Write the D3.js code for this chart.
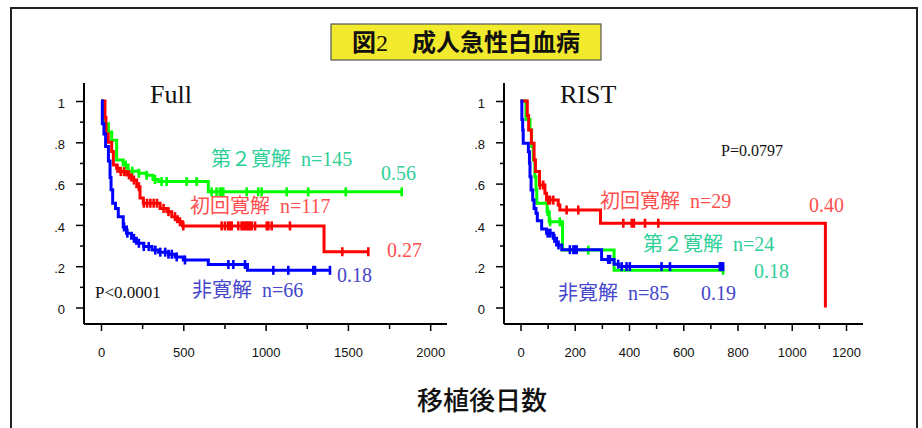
<!DOCTYPE html>
<html><head><meta charset="utf-8">
<script src="https://cdn.jsdelivr.net/npm/d3@7"></script>
<style>
html,body{margin:0;padding:0;background:#fff;}
svg{display:block;}
text{white-space:pre;}
</style></head>
<body>
<svg id="c" width="922" height="428"></svg>
<script>
// ---------- data ----------
const yTicks = [0, 0.2, 0.4, 0.6, 0.8, 1];
const yTickLabels = ["0", ".2", ".4", ".6", ".8", "1"];
const fullXTicks = [0, 500, 1000, 1500, 2000];
const ristXTicks = [0, 200, 400, 600, 800, 1000, 1200];

// Full panel: KM step points [day, survival]
const fullGreen = [[0,1],[10,0.95],[20,0.89],[45,0.85],[65,0.81],[95,0.714],[135,0.69],[165,0.66],[230,0.65],[277,0.64],[316,0.62],[348,0.61],[652,0.56],[1827,0.56]];
const fullRed = [[0,1],[24,0.92],[30,0.84],[44,0.80],[65,0.755],[75,0.69],[95,0.674],[116,0.658],[156,0.642],[186,0.617],[217,0.585],[237,0.53],[257,0.505],[359,0.48],[400,0.464],[430,0.44],[465,0.415],[495,0.395],[1355,0.27],[1624,0.27]];
const fullBlue = [[0,1],[8,0.89],[18,0.84],[28,0.78],[45,0.71],[55,0.63],[61,0.57],[71,0.505],[88,0.48],[105,0.44],[135,0.39],[155,0.36],[185,0.335],[215,0.311],[260,0.295],[310,0.278],[350,0.268],[410,0.258],[450,0.245],[500,0.23],[652,0.208],[890,0.18],[1391,0.18]];
const fullGreenCens = [150,190,230,277,328,368,399,520,581,672,702,723,733,743,885,955,976,1128,1259,1487,1827];
const fullRedCens = [100,120,140,170,200,230,260,280,300,320,340,380,410,450,480,500,733,753,773,784,794,834,854,864,875,885,895,905,915,936,1007,1017,1037,1148,1466,1624];
const fullBlueCens = [140,160,200,230,260,290,330,360,390,410,430,460,510,774,804,875,1047,1138,1290,1300,1391];

// RIST panel
const ristGreen = [[0,1],[20,0.91],[35,0.86],[41,0.78],[47,0.714],[53,0.633],[57,0.57],[60,0.505],[98,0.464],[106,0.415],[155,0.278],[345,0.18],[747,0.18]];
const ristRed = [[0,1],[25,0.93],[30,0.86],[40,0.795],[50,0.714],[55,0.658],[70,0.593],[90,0.553],[96,0.52],[139,0.496],[145,0.472],[295,0.408],[1124,0]];
const ristBlue = [[0,1],[5,0.91],[8,0.86],[10,0.795],[29,0.754],[33,0.698],[35,0.633],[39,0.569],[45,0.52],[50,0.48],[57,0.456],[62,0.42],[78,0.38],[96,0.36],[121,0.335],[133,0.303],[152,0.28],[299,0.233],[345,0.21],[362,0.198],[747,0.198]];
const ristGreenCens = [100,109,145,250,747];
const ristRedCens = [72,84,102,109,121,170,213,379,410,418,459,508];
const ristBlueCens = [100,110,125,140,182,195,201,207,323,330,360,373,391,403,520,551,735,741,747];

const titleText = ["図", "2", "　成人急性白血病"];
const xTitle = "移植後日数";

const colGreen = "#00ff00", colRed = "#ff0000", colBlue = "#0000ff";
const labGreen = "#2fcf98", labRed = "#ff4f4f", labBlue = "#4646cc";

// ---------- drawing ----------
const svg = d3.select("#c");
const serif = "'Liberation Serif','Times New Roman','Noto Sans CJK JP',serif";
const sansJ = "'Noto Sans CJK JP','Liberation Sans',sans-serif";
const sans = "'Liberation Sans',Arial,sans-serif";

// outer frame
svg.append("rect").attr("x", 11).attr("y", 8).attr("width", 906).attr("height", 440)
  .attr("fill", "none").attr("stroke", "#222").attr("stroke-width", 2);

// title box
svg.append("rect").attr("x", 331).attr("y", 24).attr("width", 270).attr("height", 36)
  .attr("fill", "#f2ea2c").attr("stroke", "#555").attr("stroke-width", 1.2);
const tt = svg.append("text").attr("x", 466).attr("y", 51).attr("text-anchor", "middle")
  .attr("font-size", 24).attr("fill", "#111");
tt.append("tspan").attr("font-family", sansJ).attr("font-weight", 700).text(titleText[0]);
tt.append("tspan").attr("font-family", serif).attr("font-weight", 400).text(titleText[1]);
tt.append("tspan").attr("font-family", sansJ).attr("font-weight", 700).text(titleText[2]);

// x title
svg.append("text").attr("x", 482).attr("y", 410).attr("text-anchor", "middle")
  .attr("font-family", sansJ).attr("font-weight", 500).attr("font-size", 26).attr("fill", "#111").text(xTitle);

const y = d3.scaleLinear().domain([0, 1]).range([307.5, 101]);

function stepAt(curve, t) {
  let s = curve[0][1];
  for (const p of curve) { if (p[0] <= t) s = p[1]; else break; }
  return s;
}

function panel(opt) {
  const g = svg.append("g");
  const x = d3.scaleLinear().domain(opt.domain).range(opt.range);
  // axis lines
  g.append("line").attr("x1", opt.axisX).attr("x2", opt.axisX).attr("y1", 83).attr("y2", 324)
    .attr("stroke", "#000").attr("stroke-width", 2);
  g.append("line").attr("x1", opt.axisX).attr("x2", opt.axisEnd).attr("y1", 324).attr("y2", 324)
    .attr("stroke", "#000").attr("stroke-width", 2);
  // y axis major
  const ya = g.append("g").attr("transform", `translate(${opt.axisX},0)`)
    .call(d3.axisLeft(y).tickValues(yTicks).tickFormat((d, i) => yTickLabels[i]).tickSize(8).tickPadding(11));
  ya.select(".domain").remove();
  ya.selectAll("line").attr("stroke-width", 1.5);
  ya.selectAll("text").attr("font-family", sans).attr("font-size", 13).attr("fill", "#111").attr("transform", "translate(0,2)");
  // y minor
  const ym = g.append("g").attr("transform", `translate(${opt.axisX},0)`)
    .call(d3.axisLeft(y).tickValues([0.1, 0.3, 0.5, 0.7, 0.9]).tickFormat("").tickSize(4));
  ym.select(".domain").remove();
  ym.selectAll("line").attr("stroke-width", 1.5);
  // x axis major
  const xa = g.append("g").attr("transform", "translate(0,324)")
    .call(d3.axisBottom(x).tickValues(opt.ticks).tickFormat(d3.format("d")).tickSize(7).tickPadding(17));
  xa.select(".domain").remove();
  xa.selectAll("line").attr("stroke-width", 1.5);
  xa.selectAll("text").attr("font-family", sans).attr("font-size", 13).attr("fill", "#111");
  const xm = g.append("g").attr("transform", "translate(0,324)")
    .call(d3.axisBottom(x).tickValues(opt.minor).tickFormat("").tickSize(5));
  xm.select(".domain").remove();
  xm.selectAll("line").attr("stroke-width", 1.5);

  const line = d3.line().x(d => x(d[0])).y(d => y(d[1])).curve(d3.curveStepAfter);
  opt.series.forEach(s => {
    g.append("path").attr("d", line(s.data)).attr("fill", "none").attr("stroke", s.color)
      .attr("stroke-width", 3).attr("stroke-linejoin", "miter");
    g.append("g").selectAll("line").data(s.cens).join("line")
      .attr("x1", d => x(d)).attr("x2", d => x(d))
      .attr("y1", d => y(stepAt(s.data, d)) - 4.5).attr("y2", d => y(stepAt(s.data, d)) + 4.5)
      .attr("stroke", s.color).attr("stroke-width", 2.6);
  });
  // panel title
  g.append("text").attr("x", opt.titleX).attr("y", 103).attr("font-family", serif)
    .attr("font-size", 26).attr("fill", "#111").text(opt.title);
  opt.labels.forEach(l => {
    g.append("text").attr("x", l.x).attr("y", l.y).attr("font-family", serif)
      .attr("font-size", l.size || 20).attr("fill", l.color).text(l.text);
  });
}

panel({
  domain: [0, 2000], range: [101, 430.2], axisX: 84, axisEnd: 447,
  ticks: fullXTicks, minor: [250, 750, 1250, 1750],
  title: "Full", titleX: 150,
  series: [
    {data: fullGreen, cens: fullGreenCens, color: colGreen},
    {data: fullRed, cens: fullRedCens, color: colRed},
    {data: fullBlue, cens: fullBlueCens, color: colBlue}
  ],
  labels: [
    {x: 211, y: 166, text: "第２寛解  n=145", color: labGreen},
    {x: 381, y: 180, text: "0.56", color: labGreen},
    {x: 190, y: 213, text: "初回寛解  n=117", color: labRed},
    {x: 387, y: 257, text: "0.27", color: labRed},
    {x: 337, y: 282, text: "0.18", color: labBlue},
    {x: 192, y: 297, text: "非寛解  n=66", color: labBlue},
    {x: 95, y: 298, text: "P<0.0001", color: "#111", size: 17}
  ]
});

panel({
  domain: [0, 1200], range: [520.5, 846], axisX: 504, axisEnd: 863,
  ticks: ristXTicks, minor: [100, 300, 500, 700, 900, 1100],
  title: "RIST", titleX: 560,
  series: [
    {data: ristGreen, cens: ristGreenCens, color: colGreen},
    {data: ristRed, cens: ristRedCens, color: colRed},
    {data: ristBlue, cens: ristBlueCens, color: colBlue}
  ],
  labels: [
    {x: 721, y: 156, text: "P=0.0797", color: "#111", size: 16},
    {x: 600, y: 208, text: "初回寛解  n=29", color: labRed},
    {x: 809, y: 212, text: "0.40", color: labRed},
    {x: 643, y: 251, text: "第２寛解  n=24", color: labGreen},
    {x: 754, y: 278, text: "0.18", color: labGreen},
    {x: 558, y: 300, text: "非寛解  n=85", color: labBlue},
    {x: 701, y: 300, text: "0.19", color: labBlue}
  ]
});
</script>
</body></html>
